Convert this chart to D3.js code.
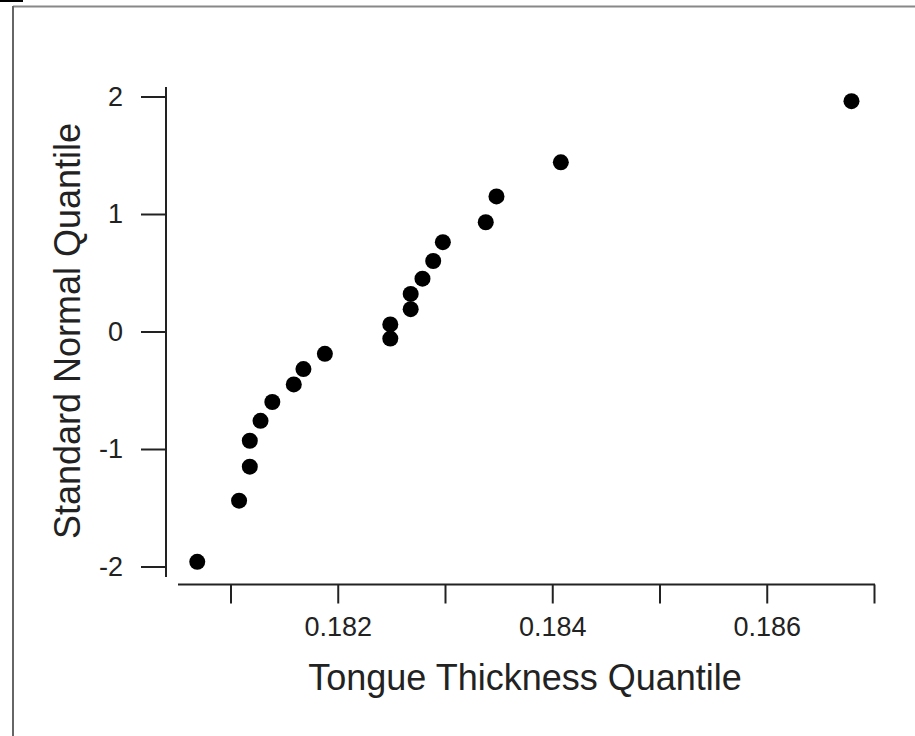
<!DOCTYPE html>
<meta charset="utf-8">
<script src="https://cdn.jsdelivr.net/npm/d3@7"></script>
<style>
    body { margin: 0; padding: 0; background: #fff; }
    svg text { font-family: "Liberation Sans", Arial, sans-serif; fill: #222; }
</style>
<body>
<script>
// tongue thickness vs. standard normal quantile (normal probability plot)
const thickness = [0.18069, 0.18108, 0.18118, 0.18118, 0.18128, 0.18139, 0.18159, 0.18168, 0.18188, 0.18249,
                   0.18249, 0.18268, 0.18268, 0.18279, 0.18289, 0.18298, 0.18338, 0.18348, 0.18408, 0.18679];
const quantile = [-1.96, -1.44, -1.15, -0.93, -0.76, -0.60, -0.45, -0.32, -0.19, -0.06,
                  0.06, 0.19, 0.32, 0.45, 0.60, 0.76, 0.93, 1.15, 1.44, 1.96];
const xTicks = [0.181, 0.182, 0.183, 0.184, 0.185, 0.186, 0.187];
const xTickLabels = ['', '0.182', '', '0.184', '', '0.186', ''];
const yTicks = [-2, -1, 0, 1, 2];

const width = 915, height = 736;

const svg = d3.select('body').append('svg')
    .attr('width', width)
    .attr('height', height);

// frame from the screenshot
svg.append('rect').attr('x', 0).attr('y', 0).attr('width', 23).attr('height', 2).attr('fill', '#000');
svg.append('line').attr('x1', 13).attr('x2', width).attr('y1', 6.5).attr('y2', 6.5)
    .attr('stroke', '#888').attr('stroke-width', 2);
svg.append('line').attr('x1', 13).attr('x2', 13).attr('y1', 6).attr('y2', height)
    .attr('stroke', '#666').attr('stroke-width', 2);

const x = d3.scaleLinear().domain([0.181, 0.187]).range([230.5, 874]);
const y = d3.scaleLinear().domain([-2, 2]).range([566.5, 96.5]);

// y axis
const yAxis = svg.append('g')
    .attr('transform', 'translate(166,0)')
    .call(d3.axisLeft(y).tickValues(yTicks).tickFormat(d => String(d)).tickSize(25).tickPadding(18));
yAxis.select('.domain').attr('d', 'M0,87V577');

// x axis
const xAxis = svg.append('g')
    .attr('transform', 'translate(0,584.5)')
    .call(d3.axisBottom(x).tickValues(xTicks).tickFormat((d, i) => xTickLabels[i]).tickSize(19).tickPadding(13));
xAxis.select('.domain').attr('d', 'M178,0H875');

svg.selectAll('.domain, .tick line').attr('stroke', '#222').attr('stroke-width', 2);
svg.selectAll('.tick text').style('font-size', '27px').attr('fill', '#222');

// titles
svg.append('text')
    .attr('x', 525).attr('y', 690)
    .attr('text-anchor', 'middle')
    .style('font-size', '36px')
    .text('Tongue Thickness Quantile');

svg.append('text')
    .attr('transform', 'translate(80,331) rotate(-90)')
    .attr('text-anchor', 'middle')
    .style('font-size', '36px')
    .text('Standard Normal Quantile');

// points
svg.selectAll('circle.pt')
    .data(thickness.map((t, i) => [t, quantile[i]]))
    .join('circle')
        .classed('pt', true)
        .attr('cx', d => x(d[0]))
        .attr('cy', d => y(d[1]))
        .attr('r', 8)
        .attr('fill', '#000');
</script>
